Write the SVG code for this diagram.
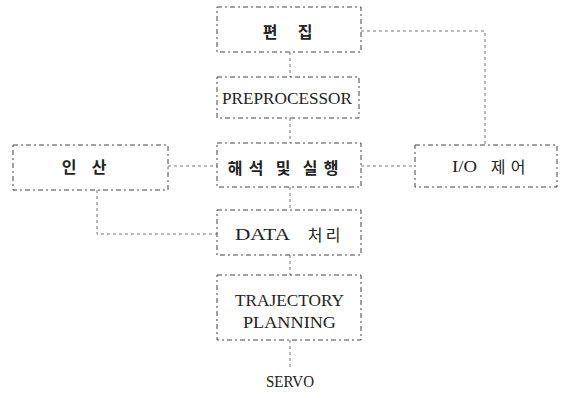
<svg xmlns="http://www.w3.org/2000/svg" width="567" height="398" viewBox="0 0 567 398">
<style>
.box{fill:none;stroke:#444;stroke-width:1;stroke-dasharray:5 3 2 3}
.ln{fill:none;stroke:#777;stroke-width:1;stroke-dasharray:3 3}
.t{font-family:"Liberation Serif",serif;font-size:17px;fill:#222;dominant-baseline:central}
.k{font-family:"Noto Sans CJK KR",sans-serif;font-size:16px;font-weight:bold;fill:#222;text-anchor:middle;dominant-baseline:central}
.kn{font-family:"Noto Sans CJK KR",sans-serif;font-size:16px;fill:#222;text-anchor:middle;dominant-baseline:central}
</style>
<rect width="567" height="398" fill="#fff"/>
<g id="connectors">
<path class="ln" d="M290,52V77"/>
<path class="ln" d="M290,118V143"/>
<path class="ln" d="M290,187V210"/>
<path class="ln" d="M290,255V275"/>
<path class="ln" d="M290,340V368"/>
<path class="ln" d="M361,31H485V145"/>
<path class="ln" d="M168,166H217"/>
<path class="ln" d="M361,166H415"/>
<path class="ln" d="M97,190V234H217"/>
</g>
<g id="edit">
<rect class="box" x="217" y="7" width="144" height="45"/>
<text class="k" x="270" y="31">편</text>
<text class="k" x="305" y="31">집</text>
</g>
<g id="preprocessor">
<rect class="box" x="217" y="77" width="142" height="41"/>
<text class="t" x="222" y="98" textLength="130" lengthAdjust="spacingAndGlyphs">PREPROCESSOR</text>
</g>
<g id="operation">
<rect class="box" x="13" y="145" width="155" height="45"/>
<text class="k" x="69" y="166">인</text>
<text class="k" x="99" y="166">산</text>
</g>
<g id="interpret">
<rect class="box" x="217" y="143" width="144" height="44"/>
<text class="k" x="235" y="167">해</text>
<text class="k" x="256" y="167">석</text>
<text class="k" x="283" y="167">및</text>
<text class="k" x="310" y="167">실</text>
<text class="k" x="331" y="167">행</text>
</g>
<g id="io">
<rect class="box" x="415" y="145" width="142" height="42"/>
<text class="t" x="452" y="166" textLength="25" lengthAdjust="spacingAndGlyphs">I/O</text>
<text class="kn" x="498" y="166">제</text>
<text class="kn" x="518" y="166">어</text>
</g>
<g id="data">
<rect class="box" x="217" y="210" width="144" height="45"/>
<text class="t" x="235" y="234" textLength="55" lengthAdjust="spacingAndGlyphs">DATA</text>
<text class="kn" x="315" y="234">처</text>
<text class="kn" x="333" y="234">리</text>
</g>
<g id="trajectory">
<rect class="box" x="217" y="275" width="144" height="65"/>
<text class="t" x="235" y="300" textLength="109" lengthAdjust="spacingAndGlyphs">TRAJECTORY</text>
<text class="t" x="243" y="322" textLength="93" lengthAdjust="spacingAndGlyphs">PLANNING</text>
</g>
<g id="servo">
<text class="t" x="266" y="381" font-size="18" textLength="48" lengthAdjust="spacingAndGlyphs">SERVO</text>
</g>
</svg>
